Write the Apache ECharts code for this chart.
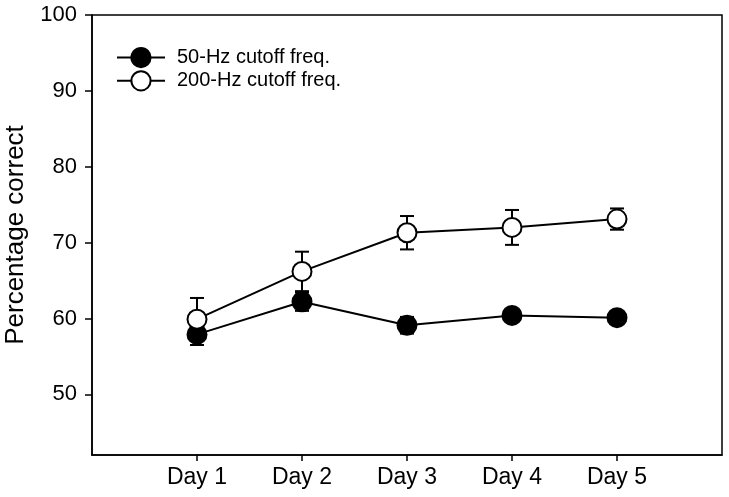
<!DOCTYPE html>
<html>
<head>
<meta charset="utf-8">
<title>Percentage correct</title>
<script src="https://cdn.jsdelivr.net/npm/echarts@6/dist/echarts.min.js"></script>
<style>
  html, body { margin: 0; padding: 0; background: #fff; }
  #main { width: 729px; height: 497px; }
</style>
</head>
<body>
<div id="main"></div>
<script>
// x position of each day
const days = [1, 2, 3, 4, 5]
const dayLabels = ['Day 1', 'Day 2', 'Day 3', 'Day 4', 'Day 5']
const yTicks = [50, 60, 70, 80, 90, 100]
// means and error (+/-)
const low50 = [57.9, 62.2, 59.1, 60.4, 60.1]
const low50Err = [1.4, 1.2, 1.1, 0.5, 0.6]
const high200 = [59.9, 66.2, 71.3, 72.0, 73.1]
const high200Err = [2.8, 2.6, 2.2, 2.3, 1.4]

const fontFamily = '"Liberation Sans", Arial, sans-serif'

function points (vals) {
  return days.map((d, i) => [d, vals[i]])
}
function errData (vals, errs) {
  return days.map((d, i) => [d, vals[i] - errs[i], vals[i] + errs[i]])
}

// error bars drawn with a custom series
function errorBar (params, api) {
  const x = api.value(0)
  const lo = api.coord([x, api.value(1)])
  const hi = api.coord([x, api.value(2)])
  const half = 7
  const style = { stroke: '#000', lineWidth: 2 }
  return {
    type: 'group',
    children: [
      { type: 'line', shape: { x1: lo[0], y1: lo[1], x2: hi[0], y2: hi[1] }, style },
      { type: 'line', shape: { x1: hi[0] - half, y1: hi[1], x2: hi[0] + half, y2: hi[1] }, style },
      { type: 'line', shape: { x1: lo[0] - half, y1: lo[1], x2: lo[0] + half, y2: lo[1] }, style }
    ]
  }
}

const chart = echarts.init(document.getElementById('main'))
chart.setOption({
  animation: false,
  backgroundColor: '#fff',
  grid: {
    left: 92, top: 15, right: 7, bottom: 42,
    containLabel: false,
    outerBoundsMode: 'none',
    show: true, borderColor: '#000', borderWidth: 1.5
  },
  legend: {
    left: 111,
    top: 42,
    orient: 'vertical',
    itemWidth: 48,
    itemHeight: 24,
    itemGap: 2,
    textStyle: { fontFamily, fontSize: 20, color: '#000', padding: [0, 0, 0, 7] },
    data: ['50-Hz cutoff freq.', '200-Hz cutoff freq.']
  },
  xAxis: {
    type: 'value',
    min: 0,
    max: 6,
    splitLine: { show: false },
    axisLine: { lineStyle: { color: '#000', width: 1.5 } },
    axisTick: { show: true, length: 6, customValues: days, lineStyle: { color: '#000', width: 1.5 } },
    axisLabel: {
      customValues: days,
      margin: 11,
      fontFamily, fontSize: 23, color: '#000',
      formatter: v => dayLabels[days.indexOf(v)] || ''
    }
  },
  yAxis: {
    type: 'value',
    min: 42,
    max: 100,
    name: 'Percentage correct',
    nameLocation: 'middle',
    nameGap: 63,
    nameTextStyle: { fontFamily, fontSize: 26, color: '#000' },
    splitLine: { show: false },
    axisLine: { show: true, lineStyle: { color: '#000', width: 1.5 } },
    axisTick: { show: true, length: 7, customValues: yTicks, lineStyle: { color: '#000', width: 1.5 } },
    axisLabel: {
      customValues: yTicks,
      margin: 15,
      fontFamily, fontSize: 22, color: '#000'
    }
  },
  series: [
    {
      type: 'custom',
      renderItem: errorBar,
      data: errData(low50, low50Err),
      z: 1
    },
    {
      type: 'custom',
      renderItem: errorBar,
      data: errData(high200, high200Err),
      z: 1
    },
    {
      name: '50-Hz cutoff freq.',
      type: 'line',
      data: points(low50),
      symbol: 'circle',
      symbolSize: 19,
      lineStyle: { color: '#000', width: 2 },
      itemStyle: { color: '#000', borderColor: '#000', borderWidth: 2 },
      z: 3
    },
    {
      name: '200-Hz cutoff freq.',
      type: 'line',
      data: points(high200),
      symbol: 'circle',
      symbolSize: 19,
      lineStyle: { color: '#000', width: 2 },
      itemStyle: { color: '#fff', borderColor: '#000', borderWidth: 2 },
      z: 4
    }
  ]
})
</script>
</body>
</html>
